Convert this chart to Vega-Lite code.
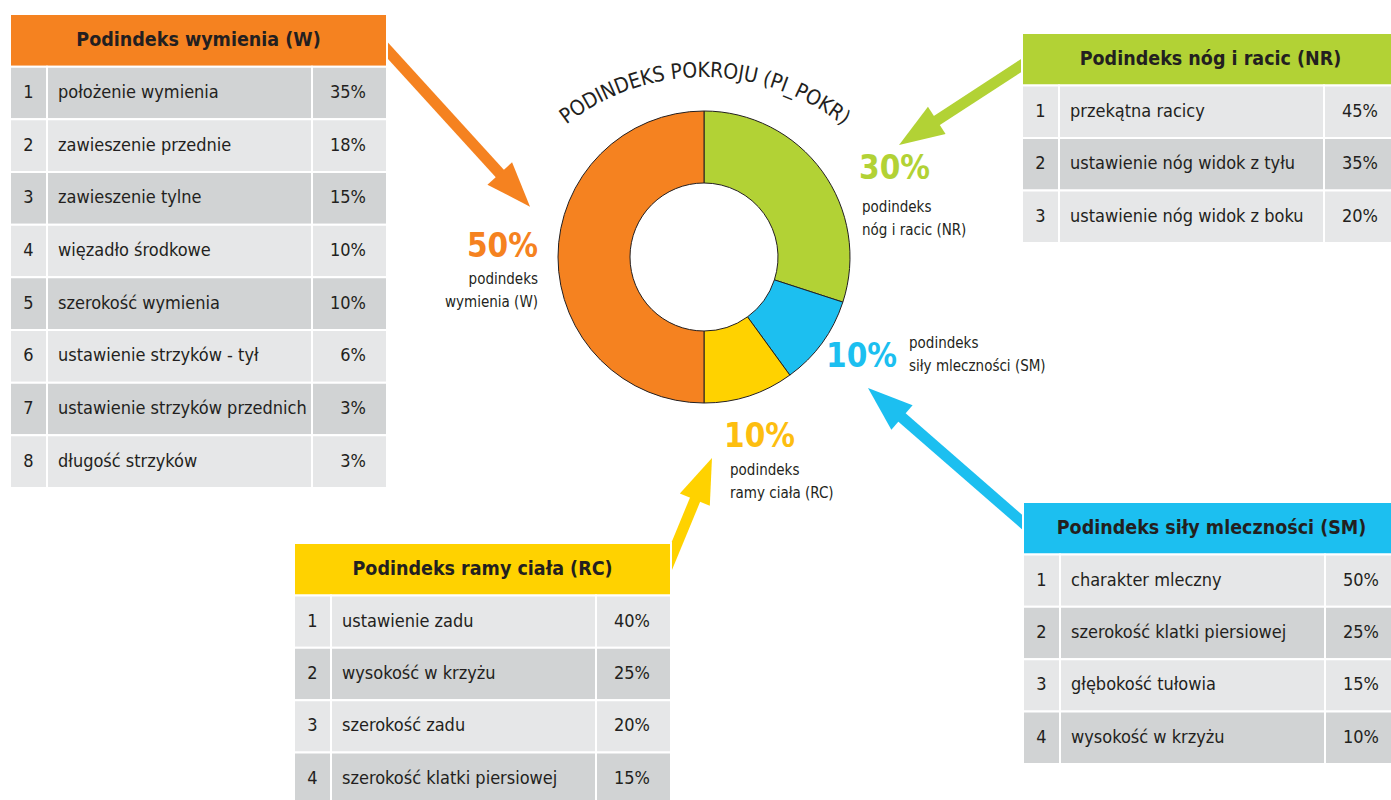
{
  "$schema": "https://vega.github.io/schema/vega-lite/v6.json",
  "width": 1391,
  "height": 800,
  "autosize": {"type": "none"},
  "padding": 0,
  "background": "white",
  "config": {
    "view": {"stroke": null},
    "font": "'DejaVu Sans Condensed', sans-serif",
    "legend": {"disable": true}
  },
  "datasets": {
    "segments": [
      {"seg": "NR", "share": 0.3, "ord": 1, "name": "podindeks\nnóg i racic (NR)"},
      {"seg": "SM", "share": 0.1, "ord": 2, "name": "podindeks\nsiły mleczności (SM)"},
      {"seg": "RC", "share": 0.1, "ord": 3, "name": "podindeks\nramy ciała (RC)"},
      {"seg": "W", "share": 0.5, "ord": 4, "name": "podindeks\nwymienia (W)"}
    ],
    "headers": [
      {"table": "W", "rank": 0, "title": "Podindeks wymienia (W)"},
      {"table": "NR", "rank": 0, "title": "Podindeks nóg i racic (NR)"},
      {"table": "SM", "rank": 0, "title": "Podindeks siły mleczności (SM)"},
      {"table": "RC", "rank": 0, "title": "Podindeks ramy ciała (RC)"}
    ],
    "rows": [
      {"table": "W", "rank": 1, "item": "położenie wymienia", "share": 0.35},
      {"table": "W", "rank": 2, "item": "zawieszenie przednie", "share": 0.18},
      {"table": "W", "rank": 3, "item": "zawieszenie tylne", "share": 0.15},
      {"table": "W", "rank": 4, "item": "więzadło środkowe", "share": 0.10},
      {"table": "W", "rank": 5, "item": "szerokość wymienia", "share": 0.10},
      {"table": "W", "rank": 6, "item": "ustawienie strzyków - tył", "share": 0.06},
      {"table": "W", "rank": 7, "item": "ustawienie strzyków przednich", "share": 0.03},
      {"table": "W", "rank": 8, "item": "długość strzyków", "share": 0.03},
      {"table": "NR", "rank": 1, "item": "przekątna racicy", "share": 0.45},
      {"table": "NR", "rank": 2, "item": "ustawienie nóg widok z tyłu", "share": 0.35},
      {"table": "NR", "rank": 3, "item": "ustawienie nóg widok z boku", "share": 0.20},
      {"table": "SM", "rank": 1, "item": "charakter mleczny", "share": 0.50},
      {"table": "SM", "rank": 2, "item": "szerokość klatki piersiowej", "share": 0.25},
      {"table": "SM", "rank": 3, "item": "głębokość tułowia", "share": 0.15},
      {"table": "SM", "rank": 4, "item": "wysokość w krzyżu", "share": 0.10},
      {"table": "RC", "rank": 1, "item": "ustawienie zadu", "share": 0.40},
      {"table": "RC", "rank": 2, "item": "wysokość w krzyżu", "share": 0.25},
      {"table": "RC", "rank": 3, "item": "szerokość zadu", "share": 0.20},
      {"table": "RC", "rank": 4, "item": "szerokość klatki piersiowej", "share": 0.15}
    ],
    "title": [
      {"i": 0, "ch": "P"}, {"i": 1, "ch": "O"}, {"i": 2, "ch": "D"}, {"i": 3, "ch": "I"},
      {"i": 4, "ch": "N"}, {"i": 5, "ch": "D"}, {"i": 6, "ch": "E"}, {"i": 7, "ch": "K"},
      {"i": 8, "ch": "S"}, {"i": 9, "ch": " "}, {"i": 10, "ch": "P"}, {"i": 11, "ch": "O"},
      {"i": 12, "ch": "K"}, {"i": 13, "ch": "R"}, {"i": 14, "ch": "O"}, {"i": 15, "ch": "J"},
      {"i": 16, "ch": "U"}, {"i": 17, "ch": " "}, {"i": 18, "ch": "("}, {"i": 19, "ch": "P"},
      {"i": 20, "ch": "I"}, {"i": 21, "ch": "_"}, {"i": 22, "ch": "P"}, {"i": 23, "ch": "O"},
      {"i": 24, "ch": "K"}, {"i": 25, "ch": "R"}, {"i": 26, "ch": ")"}
    ]
  },
  "layer": [
    {
      "data": {"name": "segments"},
      "layer": [
        {"transform": [{"filter": "datum.seg === 'W'"}], "layer": [
          {"mark": {"type": "rule", "stroke": "#f58220", "strokeWidth": 11, "strokeCap": "butt"},
           "encoding": {"x": {"datum": 380, "scale": {"domain": [0, 1391], "range": [0, 1391], "nice": false, "zero": false}, "axis": null},
                        "y": {"datum": 42, "scale": {"domain": [0, 800], "range": [0, 800], "nice": false, "zero": false}, "axis": null},
                        "x2": {"datum": 503}, "y2": {"datum": 177}}},
          {"mark": {"type": "point", "shape": "M0,-1L0.74,1L-0.74,1Z", "filled": true, "color": "#f58220", "opacity": 1, "strokeWidth": 0, "size": 2025, "angle": 137.7},
           "encoding": {"x": {"datum": 514.9, "scale": {"domain": [0, 1391], "range": [0, 1391], "nice": false, "zero": false}, "axis": null},
                        "y": {"datum": 190.1, "scale": {"domain": [0, 800], "range": [0, 800], "nice": false, "zero": false}, "axis": null}}}
        ]},
        {"transform": [{"filter": "datum.seg === 'NR'"}], "layer": [
          {"mark": {"type": "rule", "stroke": "#b2d235", "strokeWidth": 11, "strokeCap": "butt"},
           "encoding": {"x": {"datum": 1030, "scale": {"domain": [0, 1391], "range": [0, 1391], "nice": false, "zero": false}, "axis": null},
                        "y": {"datum": 59.8, "scale": {"domain": [0, 800], "range": [0, 800], "nice": false, "zero": false}, "axis": null},
                        "x2": {"datum": 933}, "y2": {"datum": 123}}},
          {"mark": {"type": "point", "shape": "M0,-1L0.72,1L-0.72,1Z", "filled": true, "color": "#b2d235", "opacity": 1, "strokeWidth": 0, "size": 2025, "angle": 237},
           "encoding": {"x": {"datum": 917.9, "scale": {"domain": [0, 1391], "range": [0, 1391], "nice": false, "zero": false}, "axis": null},
                        "y": {"datum": 132.7, "scale": {"domain": [0, 800], "range": [0, 800], "nice": false, "zero": false}, "axis": null}}}
        ]},
        {"transform": [{"filter": "datum.seg === 'SM'"}], "layer": [
          {"mark": {"type": "rule", "stroke": "#1cbff0", "strokeWidth": 11, "strokeCap": "butt"},
           "encoding": {"x": {"datum": 1030, "scale": {"domain": [0, 1391], "range": [0, 1391], "nice": false, "zero": false}, "axis": null},
                        "y": {"datum": 529, "scale": {"domain": [0, 800], "range": [0, 800], "nice": false, "zero": false}, "axis": null},
                        "x2": {"datum": 898}, "y2": {"datum": 414}}},
          {"mark": {"type": "point", "shape": "M0,-1L0.72,1L-0.72,1Z", "filled": true, "color": "#1cbff0", "opacity": 1, "strokeWidth": 0, "size": 2025, "angle": 311},
           "encoding": {"x": {"datum": 885, "scale": {"domain": [0, 1391], "range": [0, 1391], "nice": false, "zero": false}, "axis": null},
                        "y": {"datum": 402.8, "scale": {"domain": [0, 800], "range": [0, 800], "nice": false, "zero": false}, "axis": null}}}
        ]},
        {"transform": [{"filter": "datum.seg === 'RC'"}], "layer": [
          {"mark": {"type": "rule", "stroke": "#ffd200", "strokeWidth": 11, "strokeCap": "butt"},
           "encoding": {"x": {"datum": 664, "scale": {"domain": [0, 1391], "range": [0, 1391], "nice": false, "zero": false}, "axis": null},
                        "y": {"datum": 575, "scale": {"domain": [0, 800], "range": [0, 800], "nice": false, "zero": false}, "axis": null},
                        "x2": {"datum": 697}, "y2": {"datum": 495}}},
          {"mark": {"type": "point", "shape": "M0,-1L0.72,1L-0.72,1Z", "filled": true, "color": "#ffd200", "opacity": 1, "strokeWidth": 0, "size": 2025, "angle": 22.4},
           "encoding": {"x": {"datum": 703.4, "scale": {"domain": [0, 1391], "range": [0, 1391], "nice": false, "zero": false}, "axis": null},
                        "y": {"datum": 478.8, "scale": {"domain": [0, 800], "range": [0, 800], "nice": false, "zero": false}, "axis": null}}}
        ]}
      ]
    },
    {
      "data": {"name": "rows"},
      "transform": [{"filter": "datum.table === 'W'"}],
      "encoding": {"y": {"field": "rank", "type": "ordinal", "scale": {"domain": [0, 1, 2, 3, 4, 5, 6, 7, 8], "range": [14, 488], "paddingInner": 0, "paddingOuter": 0}, "axis": null}},
      "layer": [
        {"data": {"name": "headers"}, "transform": [{"filter": "datum.table === 'W'"}], "layer": [
          {"mark": {"type": "rect", "fill": "#f58220", "stroke": "white", "strokeWidth": 2},
           "encoding": {"x": {"datum": 0, "scale": {"domain": [0, 377], "range": [10, 387], "nice": false, "zero": false}, "axis": null}, "x2": {"datum": 377}}},
          {"mark": {"type": "text", "fontSize": 19.5, "fontWeight": "bold", "fill": "#231f20", "align": "center", "baseline": "middle"},
           "encoding": {"x": {"datum": 188.5, "scale": {"domain": [0, 377], "range": [10, 387], "nice": false, "zero": false}, "axis": null}, "text": {"field": "title"}}}
        ]},
        {"mark": {"type": "rect", "stroke": "white", "strokeWidth": 2},
         "encoding": {"x": {"datum": 0, "scale": {"domain": [0, 377], "range": [10, 387], "nice": false, "zero": false}, "axis": null}, "x2": {"datum": 37},
                      "fill": {"condition": {"test": "datum.rank % 2 === 1", "value": "#d1d3d4"}, "value": "#e6e7e8"}}},
        {"mark": {"type": "rect", "stroke": "white", "strokeWidth": 2},
         "encoding": {"x": {"datum": 37, "scale": {"domain": [0, 377], "range": [10, 387], "nice": false, "zero": false}, "axis": null}, "x2": {"datum": 302},
                      "fill": {"condition": {"test": "datum.rank % 2 === 1", "value": "#d1d3d4"}, "value": "#e6e7e8"}}},
        {"mark": {"type": "rect", "stroke": "white", "strokeWidth": 2},
         "encoding": {"x": {"datum": 302, "scale": {"domain": [0, 377], "range": [10, 387], "nice": false, "zero": false}, "axis": null}, "x2": {"datum": 377},
                      "fill": {"condition": {"test": "datum.rank % 2 === 1", "value": "#d1d3d4"}, "value": "#e6e7e8"}}},
        {"mark": {"type": "text", "fontSize": 18, "fill": "#231f20", "align": "center", "baseline": "middle"},
         "encoding": {"x": {"datum": 18.5, "scale": {"domain": [0, 377], "range": [10, 387], "nice": false, "zero": false}, "axis": null}, "text": {"field": "rank", "type": "nominal"}}},
        {"mark": {"type": "text", "fontSize": 18, "fill": "#231f20", "align": "left", "baseline": "middle"},
         "encoding": {"x": {"datum": 48, "scale": {"domain": [0, 377], "range": [10, 387], "nice": false, "zero": false}, "axis": null}, "text": {"field": "item"}}},
        {"mark": {"type": "text", "fontSize": 18, "fill": "#231f20", "align": "right", "baseline": "middle"},
         "encoding": {"x": {"datum": 356, "scale": {"domain": [0, 377], "range": [10, 387], "nice": false, "zero": false}, "axis": null}, "text": {"field": "share", "type": "quantitative", "format": ".0%"}}}
      ]
    },
    {
      "data": {"name": "rows"},
      "transform": [{"filter": "datum.table === 'NR'"}],
      "encoding": {"y": {"field": "rank", "type": "ordinal", "scale": {"domain": [0, 1, 2, 3], "range": [33, 243], "paddingInner": 0, "paddingOuter": 0}, "axis": null}},
      "layer": [
        {"data": {"name": "headers"}, "transform": [{"filter": "datum.table === 'NR'"}], "layer": [
          {"mark": {"type": "rect", "fill": "#b2d235", "stroke": "white", "strokeWidth": 2},
           "encoding": {"x": {"datum": 0, "scale": {"domain": [0, 377], "range": [1022, 1399], "nice": false, "zero": false}, "axis": null}, "x2": {"datum": 377}}},
          {"mark": {"type": "text", "fontSize": 19.5, "fontWeight": "bold", "fill": "#231f20", "align": "center", "baseline": "middle"},
           "encoding": {"x": {"datum": 188.5, "scale": {"domain": [0, 377], "range": [1022, 1399], "nice": false, "zero": false}, "axis": null}, "text": {"field": "title"}}}
        ]},
        {"mark": {"type": "rect", "stroke": "white", "strokeWidth": 2},
         "encoding": {"x": {"datum": 0, "scale": {"domain": [0, 377], "range": [1022, 1399], "nice": false, "zero": false}, "axis": null}, "x2": {"datum": 37},
                      "fill": {"condition": {"test": "datum.rank % 2 === 0", "value": "#d1d3d4"}, "value": "#e6e7e8"}}},
        {"mark": {"type": "rect", "stroke": "white", "strokeWidth": 2},
         "encoding": {"x": {"datum": 37, "scale": {"domain": [0, 377], "range": [1022, 1399], "nice": false, "zero": false}, "axis": null}, "x2": {"datum": 302},
                      "fill": {"condition": {"test": "datum.rank % 2 === 0", "value": "#d1d3d4"}, "value": "#e6e7e8"}}},
        {"mark": {"type": "rect", "stroke": "white", "strokeWidth": 2},
         "encoding": {"x": {"datum": 302, "scale": {"domain": [0, 377], "range": [1022, 1399], "nice": false, "zero": false}, "axis": null}, "x2": {"datum": 377},
                      "fill": {"condition": {"test": "datum.rank % 2 === 0", "value": "#d1d3d4"}, "value": "#e6e7e8"}}},
        {"mark": {"type": "text", "fontSize": 18, "fill": "#231f20", "align": "center", "baseline": "middle"},
         "encoding": {"x": {"datum": 18.5, "scale": {"domain": [0, 377], "range": [1022, 1399], "nice": false, "zero": false}, "axis": null}, "text": {"field": "rank", "type": "nominal"}}},
        {"mark": {"type": "text", "fontSize": 18, "fill": "#231f20", "align": "left", "baseline": "middle"},
         "encoding": {"x": {"datum": 48, "scale": {"domain": [0, 377], "range": [1022, 1399], "nice": false, "zero": false}, "axis": null}, "text": {"field": "item"}}},
        {"mark": {"type": "text", "fontSize": 18, "fill": "#231f20", "align": "right", "baseline": "middle"},
         "encoding": {"x": {"datum": 356, "scale": {"domain": [0, 377], "range": [1022, 1399], "nice": false, "zero": false}, "axis": null}, "text": {"field": "share", "type": "quantitative", "format": ".0%"}}}
      ]
    },
    {
      "data": {"name": "rows"},
      "transform": [{"filter": "datum.table === 'SM'"}],
      "encoding": {"y": {"field": "rank", "type": "ordinal", "scale": {"domain": [0, 1, 2, 3, 4], "range": [502, 764], "paddingInner": 0, "paddingOuter": 0}, "axis": null}},
      "layer": [
        {"data": {"name": "headers"}, "transform": [{"filter": "datum.table === 'SM'"}], "layer": [
          {"mark": {"type": "rect", "fill": "#1cbff0", "stroke": "white", "strokeWidth": 2},
           "encoding": {"x": {"datum": 0, "scale": {"domain": [0, 377], "range": [1023, 1400], "nice": false, "zero": false}, "axis": null}, "x2": {"datum": 377}}},
          {"mark": {"type": "text", "fontSize": 19.5, "fontWeight": "bold", "fill": "#231f20", "align": "center", "baseline": "middle"},
           "encoding": {"x": {"datum": 188.5, "scale": {"domain": [0, 377], "range": [1023, 1400], "nice": false, "zero": false}, "axis": null}, "text": {"field": "title"}}}
        ]},
        {"mark": {"type": "rect", "stroke": "white", "strokeWidth": 2},
         "encoding": {"x": {"datum": 0, "scale": {"domain": [0, 377], "range": [1023, 1400], "nice": false, "zero": false}, "axis": null}, "x2": {"datum": 37},
                      "fill": {"condition": {"test": "datum.rank % 2 === 0", "value": "#d1d3d4"}, "value": "#e6e7e8"}}},
        {"mark": {"type": "rect", "stroke": "white", "strokeWidth": 2},
         "encoding": {"x": {"datum": 37, "scale": {"domain": [0, 377], "range": [1023, 1400], "nice": false, "zero": false}, "axis": null}, "x2": {"datum": 302},
                      "fill": {"condition": {"test": "datum.rank % 2 === 0", "value": "#d1d3d4"}, "value": "#e6e7e8"}}},
        {"mark": {"type": "rect", "stroke": "white", "strokeWidth": 2},
         "encoding": {"x": {"datum": 302, "scale": {"domain": [0, 377], "range": [1023, 1400], "nice": false, "zero": false}, "axis": null}, "x2": {"datum": 377},
                      "fill": {"condition": {"test": "datum.rank % 2 === 0", "value": "#d1d3d4"}, "value": "#e6e7e8"}}},
        {"mark": {"type": "text", "fontSize": 18, "fill": "#231f20", "align": "center", "baseline": "middle"},
         "encoding": {"x": {"datum": 18.5, "scale": {"domain": [0, 377], "range": [1023, 1400], "nice": false, "zero": false}, "axis": null}, "text": {"field": "rank", "type": "nominal"}}},
        {"mark": {"type": "text", "fontSize": 18, "fill": "#231f20", "align": "left", "baseline": "middle"},
         "encoding": {"x": {"datum": 48, "scale": {"domain": [0, 377], "range": [1023, 1400], "nice": false, "zero": false}, "axis": null}, "text": {"field": "item"}}},
        {"mark": {"type": "text", "fontSize": 18, "fill": "#231f20", "align": "right", "baseline": "middle"},
         "encoding": {"x": {"datum": 356, "scale": {"domain": [0, 377], "range": [1023, 1400], "nice": false, "zero": false}, "axis": null}, "text": {"field": "share", "type": "quantitative", "format": ".0%"}}}
      ]
    },
    {
      "data": {"name": "rows"},
      "transform": [{"filter": "datum.table === 'RC'"}],
      "encoding": {"y": {"field": "rank", "type": "ordinal", "scale": {"domain": [0, 1, 2, 3, 4], "range": [543, 805], "paddingInner": 0, "paddingOuter": 0}, "axis": null}},
      "layer": [
        {"data": {"name": "headers"}, "transform": [{"filter": "datum.table === 'RC'"}], "layer": [
          {"mark": {"type": "rect", "fill": "#ffd200", "stroke": "white", "strokeWidth": 2},
           "encoding": {"x": {"datum": 0, "scale": {"domain": [0, 377], "range": [294, 671], "nice": false, "zero": false}, "axis": null}, "x2": {"datum": 377}}},
          {"mark": {"type": "text", "fontSize": 19.5, "fontWeight": "bold", "fill": "#231f20", "align": "center", "baseline": "middle"},
           "encoding": {"x": {"datum": 188.5, "scale": {"domain": [0, 377], "range": [294, 671], "nice": false, "zero": false}, "axis": null}, "text": {"field": "title"}}}
        ]},
        {"mark": {"type": "rect", "stroke": "white", "strokeWidth": 2},
         "encoding": {"x": {"datum": 0, "scale": {"domain": [0, 377], "range": [294, 671], "nice": false, "zero": false}, "axis": null}, "x2": {"datum": 37},
                      "fill": {"condition": {"test": "datum.rank % 2 === 0", "value": "#d1d3d4"}, "value": "#e6e7e8"}}},
        {"mark": {"type": "rect", "stroke": "white", "strokeWidth": 2},
         "encoding": {"x": {"datum": 37, "scale": {"domain": [0, 377], "range": [294, 671], "nice": false, "zero": false}, "axis": null}, "x2": {"datum": 302},
                      "fill": {"condition": {"test": "datum.rank % 2 === 0", "value": "#d1d3d4"}, "value": "#e6e7e8"}}},
        {"mark": {"type": "rect", "stroke": "white", "strokeWidth": 2},
         "encoding": {"x": {"datum": 302, "scale": {"domain": [0, 377], "range": [294, 671], "nice": false, "zero": false}, "axis": null}, "x2": {"datum": 377},
                      "fill": {"condition": {"test": "datum.rank % 2 === 0", "value": "#d1d3d4"}, "value": "#e6e7e8"}}},
        {"mark": {"type": "text", "fontSize": 18, "fill": "#231f20", "align": "center", "baseline": "middle"},
         "encoding": {"x": {"datum": 18.5, "scale": {"domain": [0, 377], "range": [294, 671], "nice": false, "zero": false}, "axis": null}, "text": {"field": "rank", "type": "nominal"}}},
        {"mark": {"type": "text", "fontSize": 18, "fill": "#231f20", "align": "left", "baseline": "middle"},
         "encoding": {"x": {"datum": 48, "scale": {"domain": [0, 377], "range": [294, 671], "nice": false, "zero": false}, "axis": null}, "text": {"field": "item"}}},
        {"mark": {"type": "text", "fontSize": 18, "fill": "#231f20", "align": "right", "baseline": "middle"},
         "encoding": {"x": {"datum": 356, "scale": {"domain": [0, 377], "range": [294, 671], "nice": false, "zero": false}, "axis": null}, "text": {"field": "share", "type": "quantitative", "format": ".0%"}}}
      ]
    },
    {
      "data": {"name": "segments"},
      "mark": {"type": "arc", "innerRadius": 74, "outerRadius": 146, "stroke": "#231f20", "strokeWidth": 1},
      "encoding": {
        "x": {"datum": 704, "scale": {"domain": [0, 1391], "range": [0, 1391], "nice": false, "zero": false}, "axis": null},
        "y": {"datum": 257, "scale": {"domain": [0, 800], "range": [0, 800], "nice": false, "zero": false}, "axis": null},
        "theta": {"field": "share", "type": "quantitative", "stack": true},
        "order": {"field": "ord", "type": "quantitative"},
        "color": {"field": "seg", "type": "nominal", "scale": {"domain": ["W", "NR", "SM", "RC"], "range": ["#f58220", "#b2d235", "#1cbff0", "#ffd200"]}, "legend": null}
      }
    },
    {
      "data": {"name": "title"},
      "mark": {"type": "text", "radius": 223, "fontSize": 21, "fill": "#231f20", "align": "center", "baseline": "alphabetic"},
      "encoding": {
        "x": {"datum": 704, "scale": {"domain": [0, 1391], "range": [0, 1391], "nice": false, "zero": false}, "axis": null},
        "y": {"datum": 300, "scale": {"domain": [0, 800], "range": [0, 800], "nice": false, "zero": false}, "axis": null},
        "theta": {"field": "i", "type": "quantitative", "stack": false, "scale": {
          "domain": [0, 1, 2, 3, 4, 5, 6, 7, 8, 9, 10, 11, 12, 13, 14, 15, 16, 17, 18, 19, 20, 21, 22, 23, 24, 25, 26],
          "range": [-0.6405, -0.5824, -0.5172, -0.4726, -0.429, -0.3655, -0.3067, -0.2527, -0.1988, -0.1588, -0.1203, -0.0621, -0.0017, 0.0548, 0.1169, 0.1621, 0.2053, 0.2491, 0.2787, 0.3203, 0.358, 0.3913, 0.4374, 0.4957, 0.5561, 0.6126, 0.658]}},
        "angle": {"field": "i", "type": "quantitative", "scale": {
          "domain": [0, 1, 2, 3, 4, 5, 6, 7, 8, 9, 10, 11, 12, 13, 14, 15, 16, 17, 18, 19, 20, 21, 22, 23, 24, 25, 26],
          "range": [-36.7, -33.37, -29.63, -27.08, -24.58, -20.94, -17.57, -14.48, -11.39, -9.1, -6.89, -3.56, -0.1, 3.14, 6.7, 9.29, 11.76, 14.27, 15.97, 18.35, 20.51, 22.42, 25.06, 28.4, 31.86, 35.1, 37.7]}},
        "text": {"field": "ch"}
      }
    },
    {
      "data": {"name": "segments"},
      "layer": [
        {"transform": [{"filter": "datum.seg === 'W'"}], "layer": [
          {"mark": {"type": "text", "align": "right", "baseline": "alphabetic", "fontSize": 33, "fontWeight": "bold", "fill": "#f58220"},
           "encoding": {"x": {"datum": 538, "scale": {"domain": [0, 1391], "range": [0, 1391], "nice": false, "zero": false}, "axis": null},
                        "y": {"datum": 257, "scale": {"domain": [0, 800], "range": [0, 800], "nice": false, "zero": false}, "axis": null},
                        "text": {"field": "share", "type": "quantitative", "format": ".0%"}}},
          {"mark": {"type": "text", "align": "right", "baseline": "alphabetic", "fontSize": 15, "lineHeight": 23, "lineBreak": "\n", "fill": "#231f20"},
           "encoding": {"x": {"datum": 538, "scale": {"domain": [0, 1391], "range": [0, 1391], "nice": false, "zero": false}, "axis": null},
                        "y": {"datum": 284, "scale": {"domain": [0, 800], "range": [0, 800], "nice": false, "zero": false}, "axis": null},
                        "text": {"field": "name"}}}
        ]},
        {"transform": [{"filter": "datum.seg === 'NR'"}], "layer": [
          {"mark": {"type": "text", "align": "left", "baseline": "alphabetic", "fontSize": 33, "fontWeight": "bold", "fill": "#b2d235"},
           "encoding": {"x": {"datum": 859, "scale": {"domain": [0, 1391], "range": [0, 1391], "nice": false, "zero": false}, "axis": null},
                        "y": {"datum": 179, "scale": {"domain": [0, 800], "range": [0, 800], "nice": false, "zero": false}, "axis": null},
                        "text": {"field": "share", "type": "quantitative", "format": ".0%"}}},
          {"mark": {"type": "text", "align": "left", "baseline": "alphabetic", "fontSize": 15, "lineHeight": 23, "lineBreak": "\n", "fill": "#231f20"},
           "encoding": {"x": {"datum": 862, "scale": {"domain": [0, 1391], "range": [0, 1391], "nice": false, "zero": false}, "axis": null},
                        "y": {"datum": 212, "scale": {"domain": [0, 800], "range": [0, 800], "nice": false, "zero": false}, "axis": null},
                        "text": {"field": "name"}}}
        ]},
        {"transform": [{"filter": "datum.seg === 'SM'"}], "layer": [
          {"mark": {"type": "text", "align": "left", "baseline": "alphabetic", "fontSize": 33, "fontWeight": "bold", "fill": "#1cbff0"},
           "encoding": {"x": {"datum": 826, "scale": {"domain": [0, 1391], "range": [0, 1391], "nice": false, "zero": false}, "axis": null},
                        "y": {"datum": 367, "scale": {"domain": [0, 800], "range": [0, 800], "nice": false, "zero": false}, "axis": null},
                        "text": {"field": "share", "type": "quantitative", "format": ".0%"}}},
          {"mark": {"type": "text", "align": "left", "baseline": "alphabetic", "fontSize": 15, "lineHeight": 23, "lineBreak": "\n", "fill": "#231f20"},
           "encoding": {"x": {"datum": 909, "scale": {"domain": [0, 1391], "range": [0, 1391], "nice": false, "zero": false}, "axis": null},
                        "y": {"datum": 348, "scale": {"domain": [0, 800], "range": [0, 800], "nice": false, "zero": false}, "axis": null},
                        "text": {"field": "name"}}}
        ]},
        {"transform": [{"filter": "datum.seg === 'RC'"}], "layer": [
          {"mark": {"type": "text", "align": "left", "baseline": "alphabetic", "fontSize": 33, "fontWeight": "bold", "fill": "#fdbe10"},
           "encoding": {"x": {"datum": 724, "scale": {"domain": [0, 1391], "range": [0, 1391], "nice": false, "zero": false}, "axis": null},
                        "y": {"datum": 447, "scale": {"domain": [0, 800], "range": [0, 800], "nice": false, "zero": false}, "axis": null},
                        "text": {"field": "share", "type": "quantitative", "format": ".0%"}}},
          {"mark": {"type": "text", "align": "left", "baseline": "alphabetic", "fontSize": 15, "lineHeight": 23, "lineBreak": "\n", "fill": "#231f20"},
           "encoding": {"x": {"datum": 730, "scale": {"domain": [0, 1391], "range": [0, 1391], "nice": false, "zero": false}, "axis": null},
                        "y": {"datum": 475, "scale": {"domain": [0, 800], "range": [0, 800], "nice": false, "zero": false}, "axis": null},
                        "text": {"field": "name"}}}
        ]}
      ]
    }
  ],
  "resolve": {"scale": {"x": "independent", "y": "independent", "theta": "independent", "color": "independent", "angle": "independent"}}
}
